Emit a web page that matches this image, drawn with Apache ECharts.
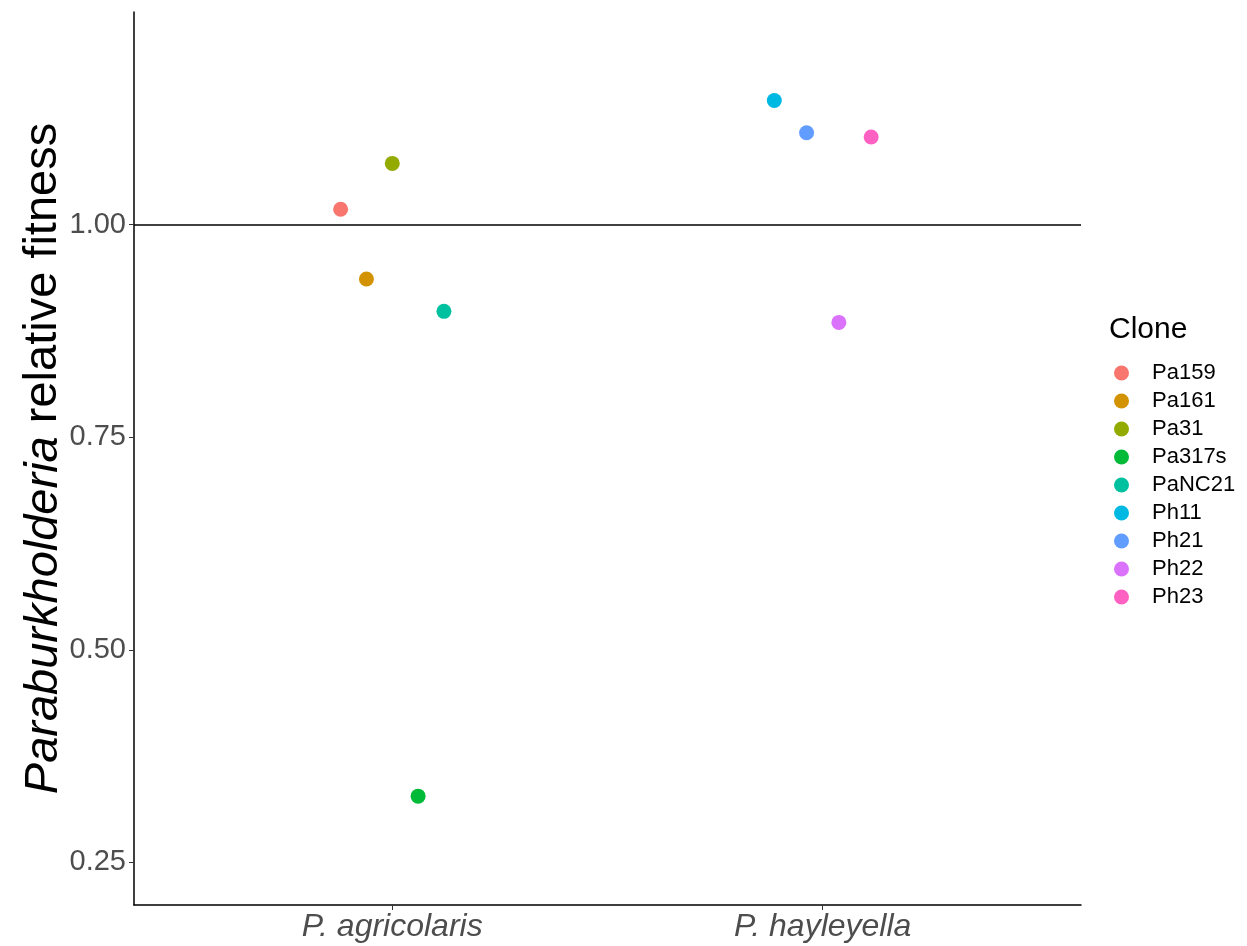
<!DOCTYPE html>
<html>
<head>
<meta charset="utf-8">
<script src="https://cdn.jsdelivr.net/npm/echarts@6/dist/echarts.min.js"></script>
<style>
html,body{margin:0;padding:0;background:#fff;}
#chart{width:1247px;height:946px;}
</style>
</head>
<body>
<div id="chart"></div>
<script>
const categories = ['P. agricolaris', 'P. hayleyella'];
const clones = ['Pa159', 'Pa161', 'Pa31', 'Pa317s', 'PaNC21', 'Ph11', 'Ph21', 'Ph22', 'Ph23'];
const speciesIndex = [0, 0, 0, 0, 0, 1, 1, 1, 1];
const dodgeOffset = [-0.12, -0.06, 0, 0.06, 0.12, -0.1125, -0.0375, 0.0375, 0.1125];
const fitness = [1.018, 0.936, 1.072, 0.328, 0.898, 1.146, 1.108, 0.885, 1.103];
const colors = ['#F8766D', '#D39200', '#93AA00', '#00BA38', '#00C19F', '#00B9E3', '#619CFF', '#DB72FB', '#FF61C3'];
const yTicks = [0.25, 0.50, 0.75, 1.00];
const refLine = 1.0;

const FONT = 'Liberation Sans';
const chart = echarts.init(document.getElementById('chart'), null, {renderer: 'canvas'});

const series = clones.map((c, i) => ({
  name: c,
  type: 'scatter',
  symbol: 'circle',
  symbolSize: 15,
  itemStyle: {color: colors[i], opacity: 1},
  data: [[speciesIndex[i] + 1 + dodgeOffset[i], fitness[i]]],
  z: 3,
  markLine: i === 0 ? {
    silent: true,
    symbol: ['none', 'none'],
    label: {show: false},
    lineStyle: {color: '#000', width: 1.5, type: 'solid'},
    data: [{yAxis: refLine}],
    z: 2
  } : undefined
}));

chart.setOption({
  animation: false,
  backgroundColor: '#fff',
  title: {
    text: 'Clone',
    left: 1109,
    top: 315,
    padding: 0,
    textStyle: {fontFamily: FONT, fontSize: 30, fontWeight: 'normal', color: '#000'}
  },
  legend: {
    orient: 'vertical',
    left: 1114,
    top: 362,
    padding: 0,
    itemWidth: 15,
    itemHeight: 15,
    itemGap: 6,
    icon: 'circle',
    data: clones,
    textStyle: {fontFamily: FONT, fontSize: 22, color: '#000', padding: [0, 0, 0, 18]}
  },
  grid: {left: 134, right: 166, top: 12, bottom: 41, containLabel: false},
  xAxis: {
    type: 'value',
    min: 0.4,
    max: 2.6,
    splitLine: {show: false},
    axisLine: {show: true, onZero: false, lineStyle: {color: '#000', width: 1.5}},
    axisTick: {show: true, length: 5, lineStyle: {color: '#333', width: 1}, customValues: [1, 2]},
    axisLabel: {
      customValues: [1, 2],
      formatter: v => categories[Math.round(v) - 1] || '',
      fontFamily: FONT, fontSize: 32, fontStyle: 'italic', color: '#4D4D4D', margin: 6
    }
  },
  yAxis: {
    type: 'value',
    min: 0.2,
    max: 1.25,
    splitLine: {show: false},
    axisLine: {show: true, onZero: false, lineStyle: {color: '#000', width: 1.5}},
    axisTick: {show: true, length: 5, lineStyle: {color: '#333', width: 1}, customValues: yTicks},
    axisLabel: {
      customValues: yTicks,
      formatter: v => v.toFixed(2),
      fontFamily: FONT, fontSize: 29, color: '#4D4D4D', margin: 8
    },
    name: '{i|Paraburkholderia} relative fitness',
    nameLocation: 'middle',
    nameGap: 67,
    nameMoveOverlap: false,
    nameTextStyle: {
      fontFamily: FONT, fontSize: 47, color: '#000',
      rich: {i: {fontFamily: FONT, fontSize: 47, fontStyle: 'italic', color: '#000'}}
    }
  },
  series: series
});
</script>
</body>
</html>
